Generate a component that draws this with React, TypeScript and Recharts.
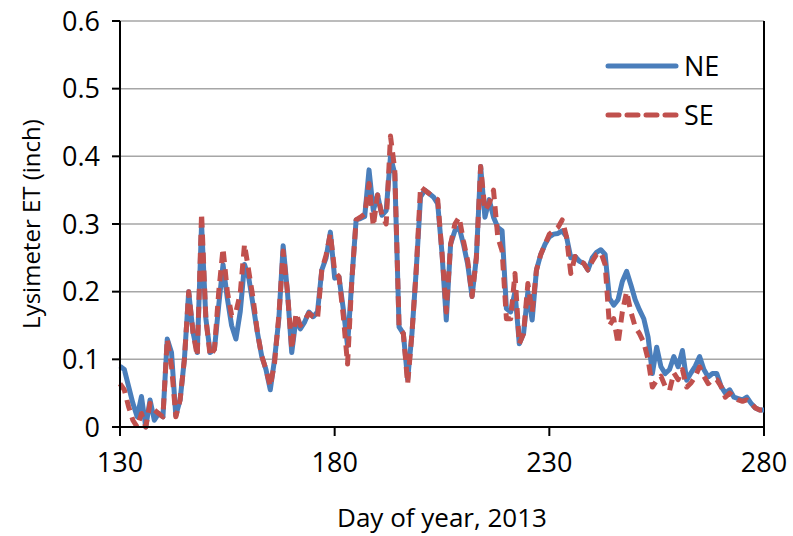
import React from 'react';
import { LineChart, Line, XAxis, YAxis, CartesianGrid, Legend, ReferenceLine } from 'recharts';

const firstDay = 130;
const days = Array.from({ length: 151 }, (_, i) => firstDay + i);

const neValues = [
  0.090, 0.085, 0.060, 0.035, 0.015, 0.045, 0.000, 0.040, 0.010, 0.020,
  0.015, 0.130, 0.110, 0.017, 0.040, 0.100, 0.200, 0.140, 0.110, 0.300,
  0.160, 0.110, 0.115, 0.180, 0.240, 0.190, 0.150, 0.130, 0.170, 0.240,
  0.220, 0.180, 0.140, 0.105, 0.085, 0.055, 0.100, 0.160, 0.268, 0.200,
  0.110, 0.160, 0.145, 0.155, 0.170, 0.163, 0.170, 0.232, 0.250, 0.288,
  0.220, 0.222, 0.175, 0.120, 0.217, 0.306, 0.308, 0.311, 0.380, 0.320,
  0.343, 0.313, 0.320, 0.400, 0.374, 0.148, 0.138, 0.070, 0.138, 0.232,
  0.340, 0.350, 0.345, 0.340, 0.330, 0.257, 0.158, 0.270, 0.290, 0.295,
  0.270, 0.240, 0.193, 0.250, 0.385, 0.310, 0.336, 0.310, 0.295, 0.290,
  0.175, 0.170, 0.200, 0.123, 0.138, 0.200, 0.158, 0.232, 0.255, 0.270,
  0.281, 0.285, 0.286, 0.290, 0.281, 0.250, 0.252, 0.245, 0.242, 0.232,
  0.250, 0.258, 0.262, 0.255, 0.190, 0.180, 0.188, 0.215, 0.230, 0.210,
  0.188, 0.173, 0.160, 0.133, 0.079, 0.118, 0.089, 0.079, 0.085, 0.104,
  0.089, 0.113, 0.069, 0.080, 0.090, 0.104, 0.085, 0.074, 0.079, 0.079,
  0.060, 0.050, 0.055, 0.044, 0.042, 0.040, 0.044, 0.035, 0.028, 0.025,
  0.025,
];

const seValues = [
  0.064, 0.055, 0.030, 0.010, 0.000, 0.020, 0.000, 0.035, 0.025, 0.020,
  0.015, 0.130, 0.090, 0.015, 0.040, 0.100, 0.200, 0.140, 0.105, 0.316,
  0.160, 0.105, 0.115, 0.200, 0.264, 0.200, 0.165, 0.170, 0.197, 0.270,
  0.230, 0.190, 0.140, 0.105, 0.085, 0.060, 0.095, 0.165, 0.260, 0.200,
  0.115, 0.168, 0.150, 0.158, 0.168, 0.163, 0.160, 0.232, 0.254, 0.286,
  0.230, 0.222, 0.165, 0.093, 0.217, 0.306, 0.310, 0.315, 0.360, 0.297,
  0.343, 0.313, 0.300, 0.430, 0.380, 0.148, 0.138, 0.064, 0.138, 0.232,
  0.355, 0.350, 0.345, 0.340, 0.336, 0.257, 0.170, 0.270, 0.300, 0.310,
  0.275, 0.245, 0.193, 0.250, 0.385, 0.320, 0.330, 0.350, 0.280, 0.260,
  0.160, 0.160, 0.227, 0.123, 0.138, 0.212, 0.170, 0.232, 0.255, 0.270,
  0.285, 0.290, 0.295, 0.306, 0.281, 0.227, 0.252, 0.245, 0.242, 0.232,
  0.245, 0.255, 0.258, 0.240, 0.150, 0.160, 0.123, 0.170, 0.200, 0.170,
  0.148, 0.138, 0.125, 0.100, 0.059, 0.069, 0.075, 0.060, 0.054, 0.080,
  0.070, 0.085, 0.059, 0.065, 0.075, 0.089, 0.075, 0.064, 0.070, 0.070,
  0.060, 0.044, 0.050, 0.044, 0.040, 0.038, 0.040, 0.035, 0.028, 0.025,
  0.025,
];

const xTicks = [130, 180, 230, 280];
const yTicks = [0, 0.1, 0.2, 0.3, 0.4, 0.5, 0.6];

const data = days.map((d, i) => ({ day: d, NE: neValues[i], SE: seValues[i] }));

const BLUE = '#4A7EBB';
const RED = '#C0504D';
const FONT = "'Open Sans', sans-serif";

const renderLegend = () => (
  <svg width={180} height={100} style={{ display: 'block' }}>
    <line x1={10} y1={26} x2={78} y2={26} stroke={BLUE} strokeWidth={5} strokeLinecap="round" />
    <text x={86} y={36} fontFamily={FONT} fontSize={27} fill="#000">NE</text>
    <line x1={10} y1={75} x2={78} y2={75} stroke={RED} strokeWidth={5} strokeLinecap="round" strokeDasharray="11 8" />
    <text x={86} y={85} fontFamily={FONT} fontSize={27} fill="#000">SE</text>
  </svg>
);

const YTitle = (props: any) => {
  const vb = props.viewBox || {};
  const cx = 30;
  const cy = (vb.y ?? 21) + (vb.height ?? 406) / 2;
  return (
    <text x={cx} y={cy} transform={`rotate(-90, ${cx}, ${cy})`} textAnchor="middle" dominantBaseline="central"
      fontFamily={FONT} fontSize={24} fill="#000">Lysimeter ET (inch)</text>
  );
};

const XTitle = (props: any) => {
  const vb = props.viewBox || {};
  const cx = (vb.x ?? 120) + (vb.width ?? 644) / 2;
  return (
    <text x={cx} y={527} textAnchor="middle" fontFamily={FONT} fontSize={26} fill="#000">Day of year, 2013</text>
  );
};

export default function App() {
  return (
    <div style={{ position: 'absolute', left: 0, top: 0, width: 793, height: 536, background: '#fff' }}>
      <LineChart width={793} height={536} data={data} margin={{ top: 21, right: 29, left: 0, bottom: 0 }}>
        <CartesianGrid horizontal vertical={false} stroke="#A6A6A6" strokeWidth={1.5} />
        <XAxis
          dataKey="day"
          type="number"
          domain={[130, 280]}
          ticks={xTicks}
          height={109}
          axisLine={{ stroke: '#000', strokeWidth: 2 }}
          tickLine={{ stroke: '#000', strokeWidth: 2 }}
          tickSize={9}
          tickMargin={17}
          tick={{ fill: '#000', fontSize: 27, fontFamily: FONT }}
          label={<XTitle />}
        />
        <YAxis
          type="number"
          domain={[0, 0.6]}
          ticks={yTicks}
          width={120}
          axisLine={{ stroke: '#000', strokeWidth: 2 }}
          tickLine={{ stroke: '#000', strokeWidth: 2 }}
          tickSize={8}
          tickMargin={12}
          tick={{ fill: '#000', fontSize: 27, fontFamily: FONT }}
          label={<YTitle />}
        />
        <ReferenceLine x={280} stroke="#000" strokeWidth={2} />
        <Line type="linear" dataKey="NE" stroke={BLUE} strokeWidth={5} dot={false} isAnimationActive={false} strokeLinejoin="round" />
        <Line type="linear" dataKey="SE" stroke={RED} strokeWidth={5} dot={false} isAnimationActive={false} strokeLinejoin="round" strokeDasharray="11 7" />
        <Legend
          layout="horizontal"
          verticalAlign="middle"
          align="center"
          content={renderLegend}
          wrapperStyle={{ left: 598, top: 40, width: 180, height: 100 }}
        />
      </LineChart>
    </div>
  );
}
